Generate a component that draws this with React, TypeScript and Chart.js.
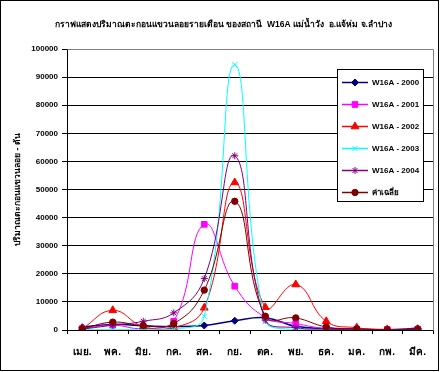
import React, { useEffect, useRef } from "react";
import { Chart, registerables } from "chart.js";
import { drawPoint } from "chart.js/helpers";

Chart.register(...registerables);

const months = ["เมย.", "พค.", "มิย.", "กค.", "สค.", "กย.", "ตค.", "พย.", "ธค.", "มค.", "กพ.", "มีค."];
const s2000 = [1000, 2000, 1500, 1200, 1600, 3300, 4400, 1300, 500, 300, 100, 600];
const s2001 = [500, 1700, 500, 3100, 37600, 15600, 4500, 2300, 500, 300, 200, 300];
const s2002 = [500, 7000, 1200, 800, 7900, 52500, 8100, 16200, 3100, 800, 200, 200];
const s2003 = [100, 100, 100, 200, 4900, 94400, 3000, 100, 100, 100, 100, 100];
const s2004 = [300, 1700, 3100, 6100, 18300, 62000, 3500, 800, 300, 100, 100, 100];
const sAvg = [400, 2800, 1600, 2300, 14200, 45800, 4900, 4300, 1100, 400, 100, 300];
const yTicksMax = 100000;
const yStep = 10000;

const titleText = "กราฟแสดงปริมาณตะกอนแขวนลอยรายเดือน ของสถานี  W16A แม่น้ำวัง  อ.แจ้ห่ม จ.ลำปาง";
const yTitle = "ปริมาณตะกอนแขวนลอย - ตัน";

const seriesDefs = [
  { label: "W16A - 2000", data: s2000, color: "#000080", style: "rectRot", r: 3.5 },
  { label: "W16A - 2001", data: s2001, color: "#FF00FF", style: "rect", r: 4 },
  { label: "W16A - 2002", data: s2002, color: "#FF0000", style: "triangle", r: 4.5 },
  { label: "W16A - 2003", data: s2003, color: "#00FFFF", style: "crossRot", r: 3.5 },
  { label: "W16A - 2004", data: s2004, color: "#800080", style: "star", r: 3.5 },
  { label: "ค่าเฉลี่ย", data: sAvg, color: "#800000", style: "circle", r: 3.2 },
];

const FONT = "'Liberation Sans', 'DejaVu Sans', sans-serif";

const framePlugin = {
  id: "frame",
  beforeDraw(chart: any) {
    const ctx = chart.ctx;
    ctx.save();
    ctx.fillStyle = "#fff";
    ctx.fillRect(0, 0, chart.width, chart.height);
    ctx.restore();
  },
  afterDraw(chart: any) {
    const ctx = chart.ctx;
    const a = chart.chartArea;
    ctx.save();
    ctx.strokeStyle = "#808080";
    ctx.lineWidth = 1;
    ctx.beginPath();
    ctx.moveTo(Math.round(a.left) + 0.5, Math.round(a.top) + 0.5);
    ctx.lineTo(Math.round(a.right) + 0.5, Math.round(a.top) + 0.5);
    ctx.lineTo(Math.round(a.right) + 0.5, Math.round(a.bottom) + 0.5);
    ctx.stroke();
    ctx.strokeStyle = "#000";
    ctx.strokeRect(0.5, 0.5, 438, 370);
    const lx = 337, ly = 69, lw = 86, lh = 132;
    ctx.fillStyle = "#fff";
    ctx.fillRect(lx, ly, lw, lh);
    ctx.strokeStyle = "#000";
    ctx.strokeRect(lx + 0.5, ly + 0.5, lw, lh);
    chart.data.datasets.forEach((ds: any, i: number) => {
      const y = Math.round(82 + i * 21.9) + 0.5;
      ctx.strokeStyle = ds.borderColor;
      ctx.lineWidth = 1.5;
      ctx.beginPath();
      ctx.moveTo(342, y);
      ctx.lineTo(368, y);
      ctx.stroke();
      ctx.fillStyle = ds.borderColor;
      ctx.strokeStyle = ds.borderColor;
      ctx.lineWidth = 1;
      drawPoint(ctx, {
        pointStyle: ds.pointStyle,
        radius: ds.pointRadius,
        borderWidth: 1,
        rotation: 0,
      } as any, 355, y);
      ctx.fillStyle = "#000";
      ctx.font = "bold 8px " + FONT;
      ctx.textBaseline = "middle";
      ctx.textAlign = "left";
      ctx.fillText(ds.label, 372, y);
    });
    ctx.restore();
  },
};

export default function App() {
  const ref = useRef<HTMLCanvasElement>(null);
  useEffect(() => {
    document.body.style.margin = "0";
    const ctx = ref.current!;
    const chart = new Chart(ctx, {
      type: "line",
      data: {
        labels: months,
        datasets: seriesDefs.map((s, i) => ({
          label: s.label,
          data: s.data,
          borderColor: s.color,
          backgroundColor: s.color,
          pointBackgroundColor: s.color,
          pointBorderColor: s.color,
          pointStyle: s.style as any,
          pointRadius: s.r,
          pointBorderWidth: 1,
          borderWidth: i === 0 ? 1.5 : 1,
          tension: 0.45,
          fill: false,
          order: seriesDefs.length - i,
        })),
      },
      options: {
        animation: false,
        responsive: false,
        layout: { padding: { left: 8, right: 8, top: 0, bottom: 0 } },
        plugins: {
          legend: { display: false },
          tooltip: { enabled: false },
          title: {
            display: true,
            text: titleText,
            color: "#000",
            align: "start",
            font: { family: FONT, size: 8.5, weight: "bold" },
            padding: { top: 19.8, bottom: 19 },
          },
        },
        scales: {
          x: {
            offset: true,
            grid: {
              offset: true,
              drawOnChartArea: false,
              drawTicks: true,
              tickLength: 4,
              color: "#000",
            },
            border: { color: "#000", width: 1 },
            ticks: {
              color: "#000",
              font: { family: FONT, size: 10, weight: "bold" },
              padding: 12,
              maxRotation: 0,
              autoSkip: false,
            },
            afterFit: (s: any) => { s.height = 42; },
          },
          y: {
            min: 0,
            max: yTicksMax,
            ticks: {
              stepSize: yStep,
              color: "#000",
              font: { family: FONT, size: 8, weight: "bold" },
              padding: 4,
              callback: (v: any) => String(v),
            },
            grid: {
              color: "#000",
              lineWidth: 1,
              tickLength: 5,
            },
            border: { color: "#000", width: 1 },
            title: {
              display: true,
              text: yTitle,
              color: "#000",
              font: { family: FONT, size: 8.5, weight: "bold" },
              padding: 5,
            },
            afterFit: (s: any) => { s.width = 59; },
          },
        },
      },
      plugins: [
        framePlugin,
        {
          id: "titleShift",
          beforeDraw(chart: any) {
            if (chart.titleBlock) {
              chart.titleBlock.left = 55;
              chart.titleBlock.width = 380;
            }
          },
        },
      ],
    });
    return () => chart.destroy();
  }, []);
  return (
    <div style={{ position: "absolute", left: 0, top: 0, width: 441, height: 372 }}>
      <canvas ref={ref} width={441} height={372} style={{ display: "block" }} />
    </div>
  );
}
